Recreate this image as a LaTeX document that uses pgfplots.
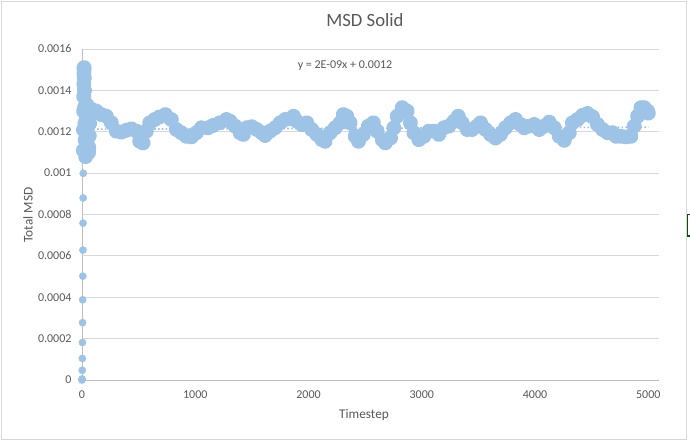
\documentclass[border=0pt]{standalone}
\usepackage{fontspec}
\setmainfont{Carlito}
\usepackage{pgfplots}
\pgfplotsset{compat=1.18}
\definecolor{ser}{HTML}{9DC3E6}
\definecolor{txt}{HTML}{595959}
\definecolor{gridc}{HTML}{D9D9D9}
\definecolor{axl}{HTML}{BFBFBF}
\begin{document}
\begin{tikzpicture}[x=1bp,y=1bp]
\path[use as bounding box] (-82,-62) rectangle (608,380);
\fill[white] (-82,-62) rectangle (608,380);
\draw[gridc, line width=0.75bp] (-80.5,-59) rectangle (604,378.5);
\begin{axis}[
  name=ax,
  scale only axis, width=577bp, height=331bp,
  xmin=0, xmax=5095, ymin=0, ymax=0.0016,
  axis x line*=bottom, axis y line*=left,
  axis line style={axl, line width=0.75bp},
  major tick length=0pt,
  xtick={0,1000,2000,3000,4000,5000},
  xticklabels={0,1000,2000,3000,4000,5000},
  ytick={0,0.0002,0.0004,0.0006,0.0008,0.001,0.0012,0.0014,0.0016},
  yticklabels={0,0.0002,0.0004,0.0006,0.0008,0.001,0.0012,0.0014,0.0016},
  scaled x ticks=false, scaled y ticks=false,
  ymajorgrids, grid style={gridc, line width=0.75bp},
  ticklabel style={font=\fontsize{12bp}{14bp}\selectfont, text=txt},
  yticklabel style={xshift=-7bp},
  xticklabel style={yshift=-7bp},
  clip=false,
]
% trendline
\addplot[ser, line width=1.6bp, dash pattern=on 1.6bp off 2.2bp] coordinates {(0,0.001212) (5000,0.001222)};
% initial ballistic points
\addplot[only marks, mark=*, mark size=3.6bp, ser, mark options={draw=none, fill=ser}] coordinates {
(0,0) (1,0.000005) (2,0.000047) (3,0.000104) (4,0.000181) (5,0.000277)
(6,0.000388) (7,0.000502) (8,0.000628) (9,0.000758) (10,0.00088) (11,0.000999) (12,0.00111)
};
% main series
\addplot[ser, line width=7.6bp, line join=round, line cap=round, mark=*, mark size=3.8bp, mark options={draw=none, fill=ser}] coordinates {
(12,0.00111) (13,0.00121) (14,0.0013) (15,0.00137) (16,0.00143) (17,0.00148) (18,0.00151)
(19,0.0015) (20,0.00146) (22,0.0014) (24,0.00132) (26,0.00124) (28,0.00116) (30,0.0011)
(32,0.00108) (34,0.00111) (36,0.00118) (38,0.00126) (40,0.00131) (43,0.00133) (46,0.0013)
(49,0.00124) (52,0.00118) (55,0.00113) (58,0.0011) (61,0.00112) (64,0.00118) (67,0.00124)
(70,0.00129) (74,0.00131) (78,0.0013)
(82,0.001308) (126,0.0013) (170,0.001283) (215,0.001275) (259,0.001243) (303,0.001203)
(347,0.001198) (391,0.001207) (436,0.001214) (480,0.001203) (510,0.001154) (539,0.001146)
(568,0.001203) (598,0.001243) (642,0.001259) (686,0.001272) (736,0.001283) (789,0.001259)
(833,0.001211) (877,0.001195) (921,0.001178) (966,0.001175) (1010,0.001195) (1054,0.001219)
(1113,0.001219) (1157,0.00123) (1216,0.001243) (1275,0.001259) (1307,0.001251) (1352,0.001227)
(1396,0.001195) (1425,0.001187) (1455,0.001219) (1499,0.001224) (1543,0.001211) (1587,0.001195)
(1617,0.001182) (1661,0.001203) (1705,0.001219) (1749,0.001243) (1793,0.001259) (1837,0.001262)
(1867,0.001275) (1897,0.001251) (1941,0.001235) (1985,0.001243) (2029,0.001211) (2073,0.001187)
(2118,0.001162) (2147,0.001154) (2191,0.001195) (2235,0.001219) (2279,0.001243) (2308,0.001283)
(2338,0.001275) (2368,0.001243) (2412,0.001178) (2441,0.001154) (2485,0.001187) (2529,0.001227)
(2573,0.001243) (2606,0.001203) (2650,0.001162) (2679,0.001146) (2724,0.00117) (2754,0.001219)
(2783,0.001275) (2827,0.001316) (2871,0.0013) (2900,0.001243) (2930,0.001195) (2974,0.001162)
(3019,0.001178) (3063,0.001203) (3107,0.001203) (3151,0.001187) (3195,0.001219) (3239,0.001227)
(3284,0.001251) (3322,0.001275) (3357,0.001243) (3401,0.001211) (3445,0.001211) (3489,0.001227)
(3519,0.001243) (3563,0.001211) (3607,0.001187) (3651,0.00117) (3695,0.001187) (3739,0.001219)
(3784,0.001243) (3828,0.001259) (3872,0.001235) (3905,0.001219) (3949,0.001227) (3993,0.001235)
(4037,0.001211) (4081,0.001227) (4125,0.001246) (4170,0.001219) (4214,0.001178) (4258,0.001159)
(4302,0.001195) (4331,0.001243) (4375,0.001259) (4420,0.001279) (4464,0.001288) (4508,0.001272)
(4552,0.001235) (4596,0.001211) (4640,0.001195) (4685,0.001195) (4715,0.001178) (4759,0.001178)
(4803,0.001175) (4847,0.001178) (4876,0.001227) (4906,0.001275) (4935,0.001316) (4965,0.001316)
(4994,0.0013) (5000,0.00129)
};
\end{axis}
\node[text=txt, font=\fontsize{18.7bp}{22bp}\selectfont] at (283,360) {MSD Solid};
\node[text=txt, font=\fontsize{12bp}{14bp}\selectfont] at (263,314) {y = 2E-09x + 0.0012};
\node[text=txt, font=\fontsize{13.3bp}{16bp}\selectfont] at (282,-35) {Timestep};
\node[text=txt, font=\fontsize{13.3bp}{16bp}\selectfont, rotate=90] at (-54,165) {Total MSD};
\fill[green!35!black] (604.5,143) rectangle (608,144.5);
\fill[green!35!black] (604.5,143) rectangle (606,166);
\fill[green!35!black] (604.5,164.5) rectangle (608,166);
\end{tikzpicture}
\end{document}
